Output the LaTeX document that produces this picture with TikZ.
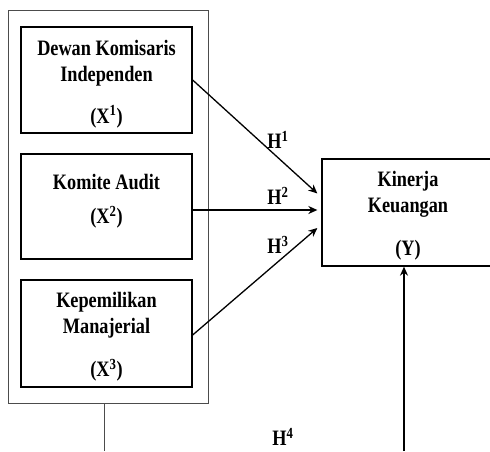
\documentclass[tikz,border=0pt]{standalone}
\usepackage{fontspec}
\newfontfamily\tnr[FakeStretch=0.83]{Liberation Serif}
\usetikzlibrary{arrows.meta,calc}
\begin{document}
\begin{tikzpicture}[x=1pt,y=-1pt,
  lbl/.style={font=\tnr\bfseries\fontsize{22}{26}\selectfont, align=center, inner sep=0pt},
  varbox/.style={draw=black, line width=1.3pt, minimum width=171pt, inner sep=0pt},
  outerbox/.style={draw=black!70, line width=0.9pt, minimum width=200pt, minimum height=393pt, inner sep=0pt},
  arr/.style={line width=1.3pt, -{Stealth[length=9pt,width=8pt]}},
  thin/.style={draw=black!70, line width=0.9pt}]
\useasboundingbox (0,0) rectangle (490,451);
\clip (0,0) rectangle (490,451);
% outer frame
\node[outerbox] (outer) at (108,206.5) {};
% variable boxes
\node[varbox, minimum height=106pt] (b1) at (106.5,80) {};
\node[varbox, minimum height=105pt] (b2) at (106.5,206.5) {};
\node[varbox, minimum height=107pt] (b3) at (106.5,333.5) {};
\node[draw=black, line width=1.3pt, minimum width=173pt, minimum height=107pt, inner sep=0pt] (k) at (408.5,212.5) {};
% texts
\node[lbl] (t1) at (106.5,63) {Dewan Komisaris\\Independen};
\node[lbl] (t1x) at (106.5,117) {(X\textsuperscript{1})};
\node[lbl] (t2) at (106.5,182) {Komite Audit};
\node[lbl] (t2x) at (106.5,217) {(X\textsuperscript{2})};
\node[lbl] (t3) at (106.5,315) {Kepemilikan\\Manajerial};
\node[lbl] (t3x) at (106.5,370) {(X\textsuperscript{3})};
\node[lbl] (tk) at (408,194.5) {Kinerja\\Keuangan};
\node[lbl] (tkx) at (408,250) {(Y)};
% hypothesis labels
\node[lbl] (h1) at (278,140) {H\textsuperscript{1}};
\node[lbl] (h2) at (278,196) {H\textsuperscript{2}};
\node[lbl] (h3) at (278,245) {H\textsuperscript{3}};
\node[lbl] (h4) at (283,437) {H\textsuperscript{4}};
% arrow targets
\coordinate (e1) at ($(k.west)+(-4,-19)$);
\coordinate (e2) at ($(k.west)+(-4,-2.5)$);
\coordinate (e3) at ($(k.west)+(-4,15.5)$);
\coordinate (kb) at (404,451);
\coordinate (ob) at (104,451);
\draw[arr] (b1.east) -- (e1);
\draw[arr] (b2.east |- e2) -- (e2);
\draw[arr] ($(b3.east)+(0,1.5)$) -- (e3);
\draw[arr] (kb) -- (kb |- k.south);
\draw[thin] (ob |- outer.south) -- (ob);
\end{tikzpicture}
\end{document}
